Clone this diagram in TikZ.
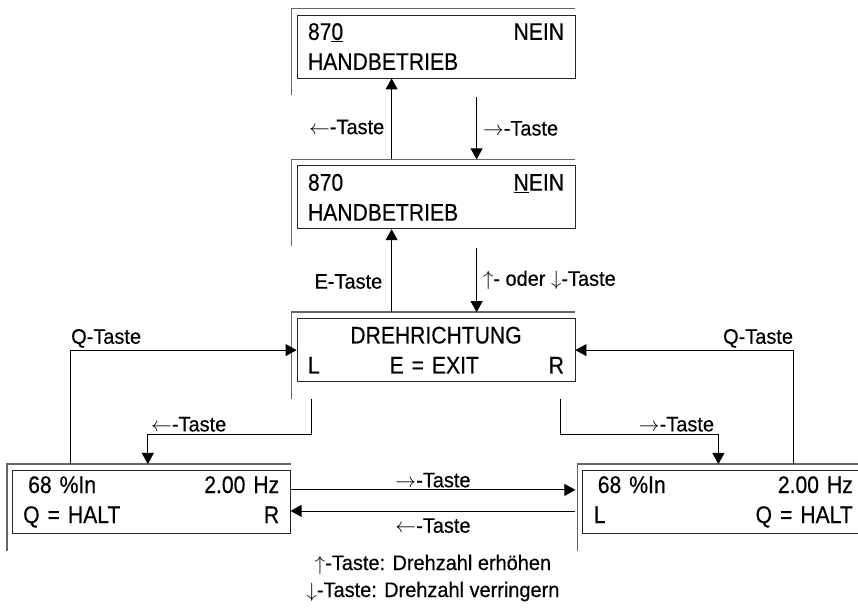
\documentclass[tikz,border=0pt]{standalone}
\usepackage{fontspec}
\setmainfont{Liberation Sans}[FakeStretch=0.88,FakeBold=0.4]
\newfontfamily\keyfont{Liberation Sans}[FakeStretch=0.95,FakeBold=0.4]
\usetikzlibrary{positioning,arrows.meta}

\tikzset{
  disp/.style={draw=black!85,line width=0.8pt,text width=256pt,inner xsep=11pt,inner ysep=0pt,
    minimum height=63pt,align=left,font=\fontsize{24}{30}\selectfont},
  frame/.style={draw=black!60,line width=1.5pt},
  key/.style={font=\keyfont\fontsize{21}{26}\selectfont,inner sep=2pt},
}

\begin{document}
\begin{tikzpicture}[x=1pt,y=1pt,->,>={Triangle[length=11pt,width=12pt]},line width=0.8pt,node distance=87pt]
\useasboundingbox (0,0) rectangle (858,610);
\node[disp] (mode) at (436,563.5) {87\underline{0}\hfill NEIN\\HANDBETRIEB};
\node[disp] (edit) [below=of mode] {870\hfill \underline{N}EIN\\HANDBETRIEB};
\node[disp] (dir) [below=89pt of edit] {\hfill DREHRICHTUNG\hfill\null\\L\hfill E = EXIT\hfill R};
\node[disp] (runL) [below left=88pt and 6pt of dir] {\hspace{5pt}68 \%In\hfill 2.00 Hz\\Q = HALT\hfill R};
\node[disp,text width=259pt] (runR) [below right=88pt and 7pt of dir] {\hspace{4pt}68 \%In\hfill 2.00 Hz\\L\hfill Q = HALT\hspace{22pt}};

% display frames
\foreach \n in {mode,edit,dir,runL,runR}
  \draw[frame,-] ([yshift=6pt]\n.north east) -| ([shift={(-5pt,-17pt)}]\n.south west);

\path
  ([shift={(95pt,6pt)}]edit.north west) edge node[key,left=5pt,pos=0.4] (k1) {$\leftarrow$-Taste} ([xshift=95pt]mode.south west)
  ([shift={(180pt,-19pt)}]mode.south west) edge node[key,right=4pt] (k2) {$\rightarrow$-Taste} ([shift={(180pt,6pt)}]edit.north west)
  ([shift={(95pt,6pt)}]dir.north west) edge node[key,left=7pt,pos=0.37] (k3) {E-Taste} ([xshift=95pt]edit.south west)
  ([shift={(180pt,-19pt)}]edit.south west) edge node[key,right=4pt] (k4) {$\uparrow$- oder $\downarrow$-Taste} ([shift={(180pt,6pt)}]dir.north west);

\draw ([shift={(59pt,6pt)}]runL.north west) |- node[key,pos=0.5,anchor=south west,inner xsep=0pt] (q1) {Q-Taste} (dir.west);
\draw ([shift={(211pt,6pt)}]runR.north west) |- node[key,pos=0.5,anchor=south east,inner xsep=0pt] (q2) {Q-Taste} (dir.east);

\draw ([shift={(15pt,-17pt)}]dir.south west) -- ++(0,-35) -| node[key,pos=0.5,anchor=south west,inner xsep=3pt] (k5) {$\leftarrow$-Taste} ([shift={(136pt,6pt)}]runL.north west);
\draw ([shift={(-15pt,-17pt)}]dir.south east) -- ++(0,-35) -| node[key,pos=0.5,anchor=south east,inner xsep=4pt] (k6) {$\rightarrow$-Taste} ([shift={(136pt,6pt)}]runR.north west);

\draw ([yshift=12pt]runL.east) -- node[key,above] (k7) {$\rightarrow$-Taste} ([shift={(-7pt,12pt)}]runR.west);
\draw ([shift={(-7pt,-9pt)}]runR.west) -- node[key,below=5pt] (k8) {$\leftarrow$-Taste} ([yshift=-9pt]runL.east);

\node[key,anchor=base] (up) at (433,40) {$\uparrow$-Taste: Drehzahl erhöhen};
\node[key,anchor=base] (down) at (433,13) {$\downarrow$-Taste: Drehzahl verringern};
\end{tikzpicture}
\end{document}
